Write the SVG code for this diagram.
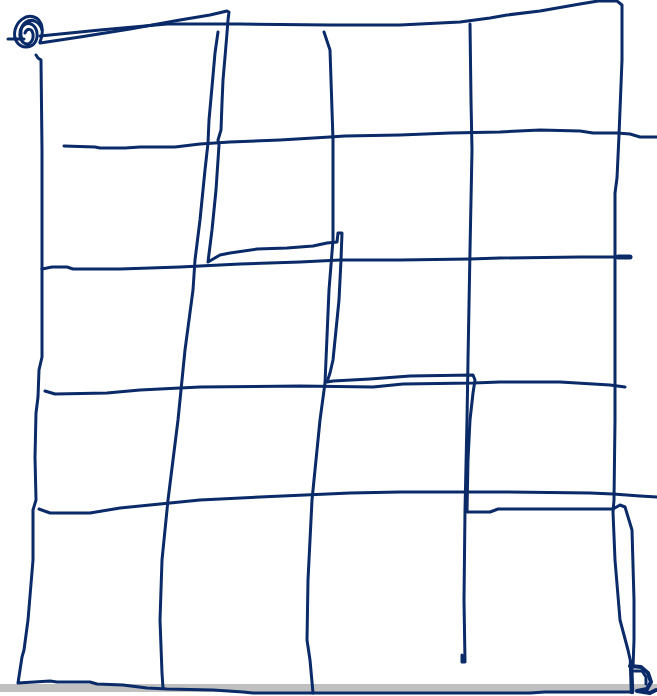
<svg xmlns="http://www.w3.org/2000/svg" width="657" height="696" viewBox="0 0 657 696">
<style>
.s{fill:none;stroke:#0a2a68;stroke-width:3;stroke-linecap:round;stroke-linejoin:round}
</style>
<rect x="0" y="0" width="657" height="696" fill="#ffffff"/>
<rect x="0" y="684" width="657" height="8" fill="#c0c0c0"/>
<g id="border">
<path class="s" d="M40,36 L100,30 L167,24 L240,24 L330,25 L400,25 L440,23 L460,22 L490,18 L507,15 L540,11 L580,4 L598,1 L617,1 L622,5 L622,60 L619,135 L617,178 L615,193 L615,300 L615,420 L614,500 L613,512 L615,560 L620,620 L628,650 L632,668"/>
<path class="s" d="M36,55 L38,58 L41,60 L42,150 L42,270 L42,357 L39,370 L38,397 L36,413 L35,457 L36,500 L33,510 L33,560 L28,620 L24,650 L22,657 L18,683 L50,681 L57,682 L90,682 L97,684 L123,685 L147,688 L167,689 L213,690 L243,692 L253,693 L330,693 L530,693 L545,692 L630,692"/>
</g>
<g id="grid">
<path class="s" d="M64,146 L95,147 L100,148 L125,148 L140,147 L175,147 L200,144 L230,142 L280,140 L330,137 L345,136 L400,135 L450,133 L500,132 L540,130 L580,131 L593,133 L617,133 L630,134 L640,137 L657,137"/>
<path class="s" d="M42,269 L52,267 L67,267 L73,269 L120,269 L180,267 L240,264 L300,262 L340,260 L400,260 L470,259 L500,258 L580,257 L630,257"/>
<path class="s" d="M618,257 L630,257" style="stroke-width:5"/>
<path class="s" d="M45,391 L55,394 L107,393 L140,390 L200,387 L300,386 L373,387 L403,384 L473,383 L500,382 L560,382 L610,385 L625,387"/>
<path class="s" d="M39,509 L50,513 L90,513 L120,508 L160,504 L200,500 L260,497 L350,493 L400,492 L500,492 L590,493 L613,494 L640,496 L657,497"/>
<path class="s" d="M218,32 L215,53 L212,87 L209,120 L208,143 L205,170 L200,220 L195,260 L193,290 L185,350 L178,420 L168,500 L162,560 L160,620 L162,673 L163,688"/>
<path class="s" d="M324,32 L330,50 L333,140 L333,200 L333,240 L329,290 L325,383 L320,420 L312,500 L308,580 L307,640 L310,660 L313,693"/>
<path class="s" d="M470,24 L471,100 L472,150 L470,250 L468,360 L467,420 L465,510 L464,600 L465,662 L462,662 L462,655"/>
</g>
<g id="route">
<path class="s" d="M40,43 L80,37 L130,29 L180,20 L210,15 L227,11 L229,12 L228,20 L227,33 L225,57 L223,80 L222,103 L221,130 L218,140 L219,145 L216,190 L212,230 L208,262 L220,255 L230,253 L257,249 L287,248 L313,246 L327,243 L337,242 L338,233 L342,233 L341,260 L339,300 L336,330 L333,360 L330,373 L327,382 L333,381 L370,379 L410,376 L473,375 L475,380 L473,393 L470,420 L468,460 L467,512 L490,512 L498,509 L613,509 L620,505 L625,507 L632,530 L634,600 L634,640 L633,667"/>
</g>
<g id="start">
<path class="s" d="M8,39 L24,39"/>
<path class="s" d="M40,42 C44,32 43,20 34,17 C25,14 17,22 15,30 C13,39 18,47 26,47 C34,47 38,40 37,33 C36,25 29,21 24,25 C18,30 19,40 24,43 C29,46 34,41 33,34 C32,28 27,28 25,33"/>
<path class="s" d="M42,30 C40,22 32,18 26,22 C20,26 20,34 22,40"/>
</g>
<g id="end">
<path class="s" d="M631,662 L632,692" style="stroke-width:4.5"/>
<path class="s" d="M630,666 L641,667 L648,673 L651,682 L647,689 L637,691 L650,693 L656,690" style="stroke-width:4"/>
<path class="s" d="M634,671 L642,671 L646,677 L646,684" style="stroke-width:3"/>
</g>
</svg>
